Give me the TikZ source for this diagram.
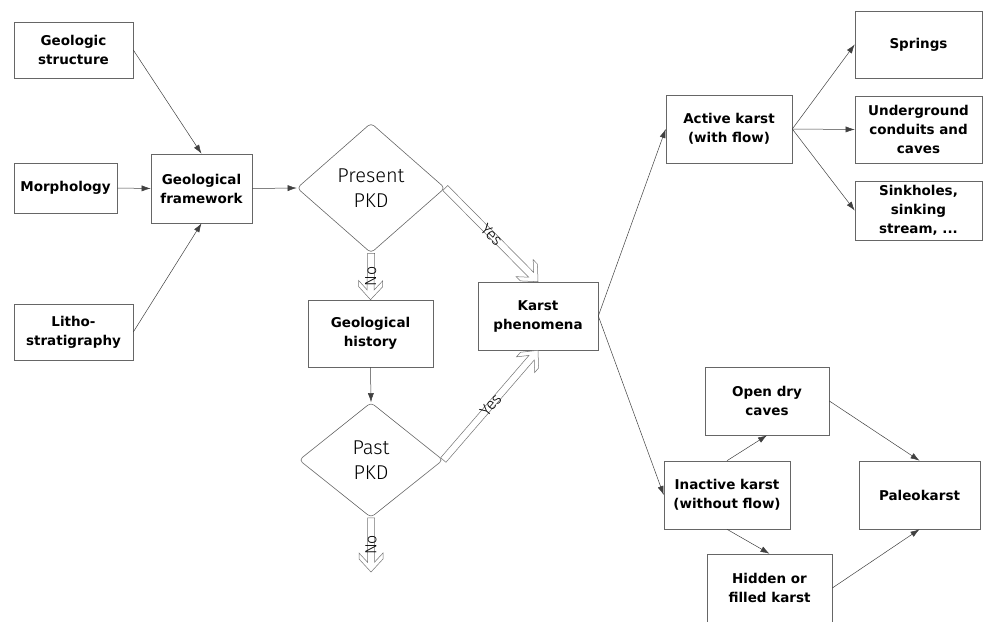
\documentclass[tikz,border=0pt]{standalone}
\usepackage{fontspec}
\setmainfont{DejaVu Sans}
\newfontfamily\thinfont{Fira Sans Light}
\usetikzlibrary{arrows.meta,shapes.geometric,calc}
\tikzset{
  box/.style={draw=black!60, line width=0.6pt, align=center, inner sep=2pt,
    font=\fontsize{13.5}{19}\selectfont\bfseries},
  dia/.style={draw=black!60, line width=0.6pt, diamond, rounded corners=4pt,
    align=center, inner sep=0pt, font=\thinfont\fontsize{20}{25}\selectfont},
  arr/.style={draw=black!75, line width=0.5pt, -{Latex[length=9pt,width=6pt]}},
  hollowline/.style={draw=black!55, line width=0.5pt, fill=white, line join=miter},
  lbl/.style={font=\thinfont\fontsize{16}{16}\selectfont, inner sep=0pt}
}
% hollow block arrow from #1 to #2, label options #3, label text #4
\newcommand\hollowarrow[4]{%
  \coordinate (hs) at (#1);
  \coordinate (he) at (#2);
  \coordinate (hj) at ($(he)!9.8pt!(hs)$);
  \coordinate (hi) at ($(he)!19pt!(hs)$);
  \coordinate (ho) at ($(he)!13pt!(hs)$);
  \draw[hollowline]
    ($(hs)!3.5pt!90:(he)$) -- ($(hj)!3.5pt!90:(he)$) -- ($(hi)!12pt!90:(he)$)
    -- ($(ho)!12pt!90:(he)$) -- (he) -- ($(ho)!12pt!-90:(he)$)
    -- ($(hi)!12pt!-90:(he)$) -- ($(hj)!3.5pt!-90:(he)$)
    -- ($(hs)!3.5pt!-90:(he)$) -- cycle;
  \path (hs) -- (he) node[lbl, midway, #3] {#4};
}
\begin{document}
\begin{tikzpicture}[x=1pt,y=-1pt]
\useasboundingbox (0,0) rectangle (984,621);
\clip (0,0) rectangle (984,621);
% left column
\node[box, minimum width=119pt, minimum height=56pt] (gs) at (73.5,50) {Geologic\\structure};
\node[box, minimum width=103pt, minimum height=50pt] (morph) at (65.5,188) {Morphology};
\node[box, minimum width=119pt, minimum height=56pt] (litho) at (73.5,332) {Litho-\\stratigraphy};
\node[box, minimum width=101pt, minimum height=69pt] (gf) at (201.5,188.5) {Geological\\framework};
% decisions
\node[dia, minimum width=148pt, minimum height=130pt] (present) at (371,188) {Present\\PKD};
\node[box, minimum width=125pt, minimum height=67pt] (gh) at (370.5,333.5) {Geological\\history};
\node[dia, minimum width=144pt, minimum height=115pt] (past) at (371,460) {Past\\PKD};
\coordinate (pastend) at (371,572);
\node[box, minimum width=120pt, minimum height=68pt] (kp) at (538,316) {Karst\\phenomena};
% right part
\node[box, minimum width=126pt, minimum height=68pt] (ak) at (729,129) {Active karst\\(with flow)};
\node[box, minimum width=127pt, minimum height=67pt] (spr) at (918.5,44.5) {Springs};
\node[box, minimum width=127pt, minimum height=67pt] (ug) at (918.5,129.5) {Underground\\conduits and\\caves};
\node[box, minimum width=127pt, minimum height=59pt] (sink) at (918.5,210.5) {Sinkholes,\\sinking\\stream, ...};
\node[box, minimum width=126pt, minimum height=68pt] (ik) at (727,495) {Inactive karst\\(without flow)};
\node[box, minimum width=124pt, minimum height=68pt] (odc) at (767,401) {Open dry\\caves};
\node[box, minimum width=121pt, minimum height=68pt] (pk) at (919.5,495) {Paleokarst};
\node[box, minimum width=125pt, minimum height=68pt] (hfk) at (769.5,588) {Hidden or\\filled karst};
% connectors
\draw[arr] (gs.east) -- (gf.north);
\draw[arr] (morph.east) -- (gf.west);
\draw[arr] (litho.east) -- (gf.south);
\draw[arr] (gf.east) -- (present.west);
\draw[arr] (gh.south) -- (past.north);
\hollowarrow{present.south}{gh.north}{rotate=90}{No}
\hollowarrow{present.east}{kp.north}{sloped}{Yes}
\hollowarrow{past.east}{kp.south}{sloped}{Yes}
\hollowarrow{past.south}{pastend}{rotate=90}{No}
\draw[arr] (kp.east) -- (ak.west);
\draw[arr] (kp.east) -- (ik.west);
\draw[arr] (ak.east) -- (spr.west);
\draw[arr] (ak.east) -- (ug.west);
\draw[arr] (ak.east) -- (sink.west);
\draw[arr] (ik.north) -- (odc.south);
\draw[arr] (ik.south) -- (hfk.north);
\draw[arr] (odc.east) -- (pk.north);
\draw[arr] (hfk.east) -- (pk.south);
\end{tikzpicture}
\end{document}
